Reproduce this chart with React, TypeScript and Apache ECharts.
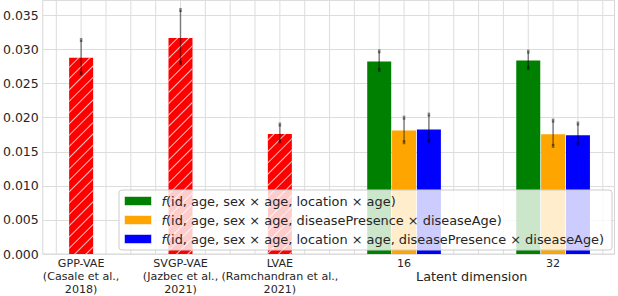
import React, { useEffect, useRef } from "react";
import * as echarts from "echarts";

// ---- data ----
const baselineLabels = [
  "GPP-VAE\n(Casale et al.,\n2018)",
  "SVGP-VAE\n(Jazbec et al.,\n2021)",
  "LVAE\n(Ramchandran et al.,\n2021)",
];
const baselineMean = [0.0288, 0.0317, 0.0176];
const baselineLow = [0.0265, 0.028, 0.01655];
const baselineHigh = [0.0314, 0.0358, 0.019];

const latentLabels = ["16", "32"];
const seriesNames = [
  "f(id, age, sex × age, location × age)",
  "f(id, age, sex × age, diseasePresence × diseaseAge)",
  "f(id, age, sex × age, location × age, diseasePresence × diseaseAge)",
];
const locMean = [0.02825, 0.0284];
const locLow = [0.027, 0.02728];
const locHigh = [0.02974, 0.0297];
const diseaseMean = [0.01814, 0.01756];
const diseaseLow = [0.0164, 0.01587];
const diseaseHigh = [0.02001, 0.01958];
const fullMean = [0.01828, 0.01741];
const fullLow = [0.01659, 0.01616];
const fullHigh = [0.02045, 0.01915];
const yTickStep = 0.005;
const xAxisTitle = "Latent dimension";

// ---- layout constants ----
const BASELINE_X = [0, 1, 2];
const GROUP_X = [3.25, 4.75];
const OFFSET = 0.25;
const GRID_STEP = 0.25;
const X_MIN = -0.386;
const X_MAX = 5.368;
const Y_MAX = 0.0372;
const COLORS = ["#008000", "#ffa500", "#0000ff"];
const TEXT = "#262626";
const GRID_COLOR = "#dddddd";
const FONT = "DejaVu Sans";

export default function App() {
  const ref = useRef<HTMLDivElement>(null);
  useEffect(() => {
    if (!ref.current) return;
    const chart = echarts.init(ref.current, undefined, { renderer: "svg" });

    const groupSeriesData = [
      [locMean, locLow, locHigh],
      [diseaseMean, diseaseLow, diseaseHigh],
      [fullMean, fullLow, fullHigh],
    ];
    const errData: number[][] = [];
    baselineMean.forEach((_, i) =>
      errData.push([BASELINE_X[i], baselineLow[i], baselineHigh[i]])
    );
    groupSeriesData.forEach(([, lo, hi], s) => {
      GROUP_X.forEach((gx, g) => {
        errData.push([gx + (s - 1) * OFFSET, lo[g], hi[g]]);
      });
    });

    const labelMap: Record<string, string> = {};
    BASELINE_X.forEach((x, i) => (labelMap[String(x)] = baselineLabels[i]));
    GROUP_X.forEach((x, i) => (labelMap[String(x)] = latentLabels[i]));

    const gridTicks: number[][] = [];
    for (let k = -1; k * GRID_STEP <= X_MAX; k++) gridTicks.push([k * GRID_STEP, 0]);

    const option: any = {
      animation: false,
      backgroundColor: "#ffffff",
      textStyle: { fontFamily: FONT },
      grid: {
        left: 40.5,
        right: 3.5,
        top: 0.5,
        bottom: 38.5,
        show: true,
        borderColor: "#d6d6d6",
        borderWidth: 1,
        backgroundColor: "transparent",
      },
      xAxis: {
        type: "value",
        min: X_MIN,
        max: X_MAX,
        axisLine: { show: false },
        axisTick: { show: false },
        splitLine: { show: false },
        axisLabel: {
          customValues: [...BASELINE_X, ...GROUP_X],
          formatter: (v: number) => labelMap[String(v)] ?? "",
          fontSize: 11.1,
          lineHeight: 13,
          color: TEXT,
          fontFamily: FONT,
          margin: 3,
        },
      },
      yAxis: {
        type: "value",
        min: 0,
        max: Y_MAX,
        interval: yTickStep,
        axisLine: { show: false },
        axisTick: { show: false },
        splitLine: { show: true, lineStyle: { color: GRID_COLOR, width: 1 } },
        axisLabel: {
          formatter: (v: number) => v.toFixed(3),
          showMaxLabel: false,
          fontSize: 12.5,
          color: TEXT,
          fontFamily: FONT,
          margin: 4,
        },
      },
      legend: {
        orient: "vertical",
        left: 119,
        top: 190,
        data: seriesNames,
        selectedMode: false,
        icon: "rect",
        itemWidth: 27,
        itemHeight: 9,
        itemGap: 3,
        padding: [3, 8, 3, 5],
        backgroundColor: "rgba(255,255,255,0.8)",
        borderColor: "#cccccc",
        borderWidth: 1,
        borderRadius: 3,
        itemStyle: { borderColor: "rgba(255,255,255,0.55)", borderWidth: 1 },
        formatter: (name: string) => "{it|f}" + name.slice(1),
        textStyle: {
          fontFamily: FONT,
          fontSize: 12.9,
          color: TEXT,
          lineHeight: 16,
          padding: [0, 0, 0, 5],
          rich: {
            it: { fontStyle: "italic", fontFamily: FONT, fontSize: 12.9, color: TEXT },
          },
        },
      },
      graphic: [
        {
          type: "text",
          left: 472 - 56,
          top: 270,
          style: { text: xAxisTitle, fontSize: 12.8, fontFamily: FONT, fill: TEXT },
        },
      ],
      series: [
        {
          type: "custom",
          name: "vgrid",
          z: 0,
          silent: true,
          encode: { x: 0, y: 1 },
          data: gridTicks,
          renderItem: (params: any, api: any) => {
            const p = api.coord([api.value(0), 0]);
            const cs = params.coordSys;
            if (p[0] <= cs.x + 0.5 || p[0] >= cs.x + cs.width - 0.5) return null;
            return {
              type: "line",
              shape: { x1: p[0], y1: cs.y, x2: p[0], y2: cs.y + cs.height },
              style: { stroke: GRID_COLOR, lineWidth: 1 },
            };
          },
        },
        {
          type: "bar",
          name: "baseline",
          barWidth: 24,
          barGap: "-100%",
          itemStyle: {
            color: "#ff0000",
            decal: {
              symbol: "rect",
              symbolSize: 1,
              dashArrayX: [1, 0],
              dashArrayY: [0.8, 7],
              rotation: -Math.PI / 4,
              color: "rgba(255,255,255,0.75)",
            },
          },
          data: BASELINE_X.map((x, i) => [x, baselineMean[i]]),
          z: 2,
        },
        ...groupSeriesData.map(([mean], s) => ({
          type: "bar",
          name: seriesNames[s],
          barWidth: 24,
          barGap: "-100%",
          itemStyle: { color: COLORS[s] },
          data: GROUP_X.map((gx, g) => [gx + (s - 1) * OFFSET, mean[g]]),
          z: 2,
        })),
        {
          type: "custom",
          name: "err",
          z: 3,
          encode: { x: 0, y: [1, 2] },
          data: errData,
          renderItem: (params: any, api: any) => {
            const x = api.value(0);
            const lo = api.coord([x, api.value(1)]);
            const hi = api.coord([x, api.value(2)]);
            const c = "rgba(0,0,0,0.45)";
            return {
              type: "group",
              children: [
                {
                  type: "line",
                  shape: { x1: lo[0], y1: lo[1], x2: hi[0], y2: hi[1] },
                  style: { stroke: c, lineWidth: 1.5 },
                },
                {
                  type: "rect",
                  shape: { x: hi[0] - 1.3, y: hi[1] - 2, width: 2.6, height: 4 },
                  style: { fill: c },
                },
                {
                  type: "rect",
                  shape: { x: lo[0] - 1.3, y: lo[1] - 2, width: 2.6, height: 4 },
                  style: { fill: c },
                },
              ],
            };
          },
        },
      ],
    };
    chart.setOption(option);
    return () => chart.dispose();
  }, []);
  return (
    <div
      ref={ref}
      style={{ position: "fixed", left: 0, top: 0, width: 618, height: 296 }}
    />
  );
}
